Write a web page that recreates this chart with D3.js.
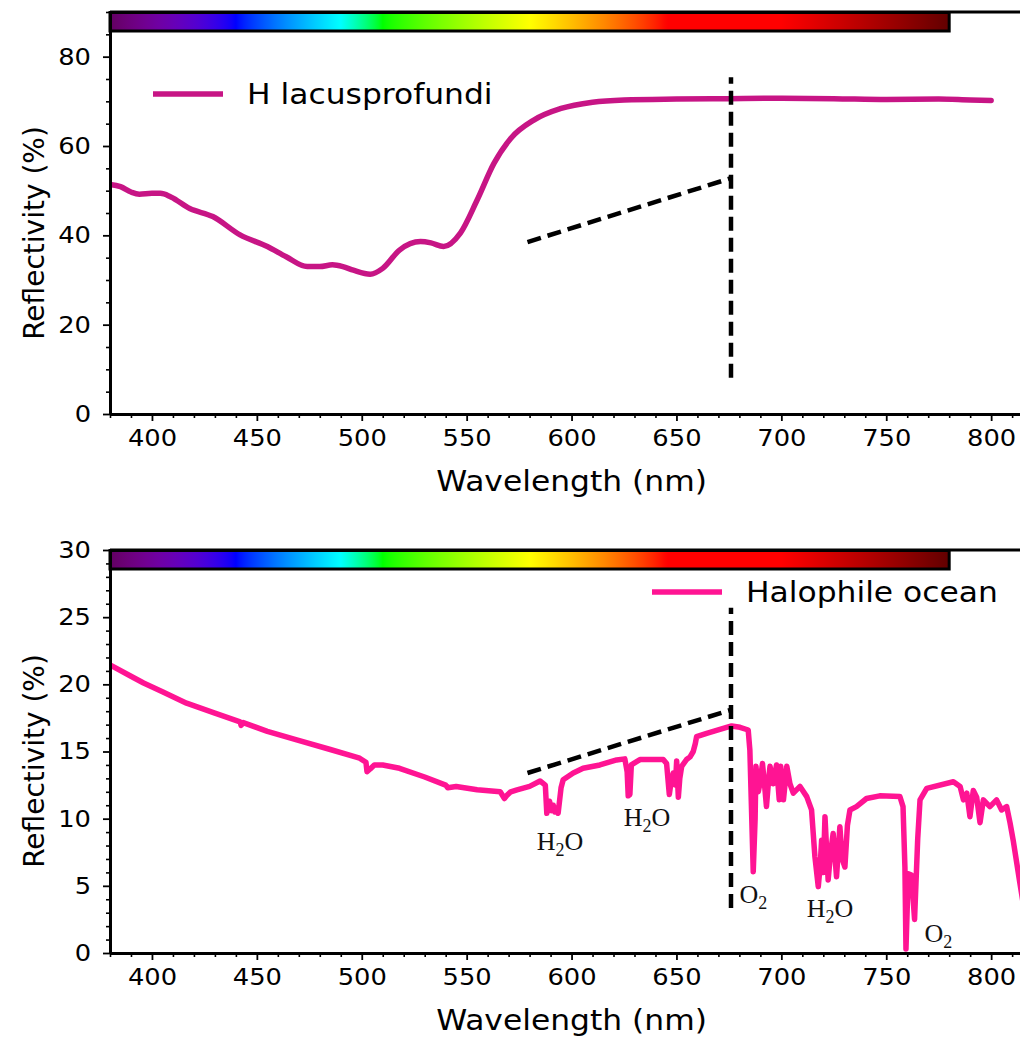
<!DOCTYPE html>
<html><head><meta charset="utf-8">
<script src="https://cdn.jsdelivr.net/npm/d3@7"></script>
<style>body{margin:0;background:#fff}svg{display:block}</style>
</head><body>
<svg id="c" width="1020" height="1038"></svg>
<script>
// ---------------- data ----------------
const xTicks = [400, 450, 500, 550, 600, 650, 700, 750, 800];
const yTicksTop = [0, 20, 40, 60, 80];
const yTicksBot = [0, 5, 10, 15, 20, 25, 30];

const lacusName = "H lacusprofundi";
const lacusWl  = [380, 385, 390, 394, 400, 404, 409, 418, 429, 442, 455, 464, 474, 480, 486, 491, 496, 504, 510, 518, 528, 533, 539, 547, 555, 563, 571, 582, 595, 610, 625, 650, 675, 700, 725, 750, 775, 790, 800];
const lacusVal = [51.4, 50.9, 49.7, 49.2, 49.4, 49.4, 48.6, 46.0, 44.2, 40.1, 37.5, 35.2, 33.0, 33.0, 33.4, 33.0, 32.2, 31.3, 32.6, 36.7, 38.6, 38.3, 37.5, 40.5, 47.9, 56.1, 61.7, 65.8, 68.4, 69.8, 70.3, 70.5, 70.6, 70.7, 70.6, 70.4, 70.5, 70.3, 70.2];

const oceanName = "Halophile ocean";
const oceanWl  = [380, 390, 396, 405, 416.5, 430, 442, 442.5, 443.5, 455, 469, 485, 499, 502, 502.5, 504, 506, 510, 518, 530, 540, 541, 545, 555, 566, 568, 569, 571, 574, 580, 585, 587.5, 588.2, 589.5, 590.5, 591.3, 592, 593, 593.6, 595, 596, 600.8, 605.5, 613.5, 621.5, 625.4, 626.5, 627, 627.8, 628.5, 632.6, 643.7, 645.3, 646.6, 647.5, 648.5, 649.5, 650.1, 650.9, 651.6, 652.5, 654.8, 656.5, 658, 659, 659.6, 664.4, 670.7, 676.3, 680.3, 684.2, 685, 686.6, 687.5, 687.9, 689, 689.8, 691, 692, 692.9, 694, 694.6, 696.1, 697.7, 699, 699.7, 701, 702.6, 704.1, 705.7, 708.9, 712.1, 714.4, 716, 717.6, 718.5, 719.2, 720, 720.8, 722.3, 723.5, 724.7, 726.3, 727.9, 729, 730.3, 731.5, 732.7, 735.8, 740.6, 746.9, 756.5, 758, 758.9, 759.4, 760.5, 762, 763.5, 765, 766.1, 769.3, 782, 785.2, 786.8, 788.4, 789.9, 791.5, 793.1, 794.7, 796.3, 799.4, 802.6, 805, 807.4, 809, 810.5, 813.7, 816];
const oceanVal = [21.45, 20.6, 20.1, 19.45, 18.6, 17.85, 17.2, 16.95, 17.15, 16.5, 15.86, 15.15, 14.5, 14.2, 13.5, 13.7, 14.0, 14.0, 13.75, 13.1, 12.5, 12.3, 12.4, 12.15, 12.0, 11.5, 11.7, 12.0, 12.15, 12.4, 12.8, 12.5, 10.4, 11.3, 10.6, 11.0, 10.5, 10.8, 10.4, 12.3, 12.9, 13.4, 13.75, 14.0, 14.37, 14.45, 13.5, 11.7, 11.8, 14.0, 14.4, 14.4, 14.1, 11.8, 12.8, 13.4, 12.5, 14.3, 11.6, 13.0, 13.9, 14.4, 14.6, 15.0, 15.6, 16.1, 16.35, 16.65, 16.9, 16.8, 16.6, 15.1, 6.05, 10.0, 13.9, 12.0, 12.6, 14.1, 12.5, 10.9, 13.0, 13.9, 12.6, 14.0, 11.4, 13.9, 11.4, 13.9, 12.6, 11.9, 12.4, 11.64, 10.65, 7.17, 4.94, 6.5, 8.4, 6.0, 10.15, 5.44, 7.5, 8.9, 5.68, 9.4, 7.0, 6.4, 9.5, 10.65, 10.9, 11.5, 11.7, 11.65, 10.9, 6.4, 0.3, 5.9, 5.8, 2.5, 8.5, 11.4, 12.26, 12.75, 12.4, 11.4, 11.9, 10.15, 12.1, 11.6, 9.7, 11.4, 10.9, 11.4, 10.65, 10.9, 9.7, 8.4, 5.2, 3.0];

// dashed guide lines (wavelength, value)
const slopeTopWl = [579, 676], slopeTopVal = [38.5, 52.8];
const vertTopWl = 676, vertTopVal = [8.1, 75.4];
const slopeBotWl = [579, 676], slopeBotVal = [13.4, 18.1];
const vertBotWl = 676, vertBotVal = [3.35, 25.7];

// absorption band labels (main, subscript, tail, wavelength centre, value at baseline)
const bandMain = ["H", "H", "O", "H", "O"];
const bandSub  = ["2", "2", "2", "2", "2"];
const bandTail = ["O", "O", "", "O", ""];
const bandWl   = [594.5, 636, 686.7, 723.2, 774.9];
const bandVal  = [7.67, 9.46, 3.72, 2.68, 0.82];

// visible spectrum colour bar
const specRange = [380, 780];

// ---------------- drawing ----------------
const svg = d3.select("#c");
const FONT = "'DejaVu Sans', 'Bitstream Vera Sans', sans-serif";
const SX = 1.12; // horizontal text stretch of the original raster

const x = d3.scaleLinear().domain([380, 820]).range([110, 1033.1]);

function specColor(w) {
  let r = 0, g = 0, b = 0; const gm = 0.8;
  if (w < 440) { const att = 0.3 + 0.7 * (w - 380) / 60; r = Math.pow((440 - w) / 60 * att, gm); b = Math.pow(att, gm); }
  else if (w < 490) { g = Math.pow((w - 440) / 50, gm); b = 1; }
  else if (w < 510) { g = 1; b = Math.pow((510 - w) / 20, gm); }
  else if (w < 580) { r = Math.pow((w - 510) / 70, gm); g = 1; }
  else if (w < 645) { r = 1; g = Math.pow((645 - w) / 65, gm); }
  else if (w < 700) { r = 1; }
  else { r = Math.pow(1 - 0.7 * (w - 700) / 80, gm); }
  return d3.rgb(r * 255, g * 255, b * 255).formatHex();
}
const defs = svg.append("defs");
const grad = defs.append("linearGradient").attr("id", "spec").attr("x1", "0%").attr("x2", "100%").attr("y1", "0%").attr("y2", "0%");
d3.range(specRange[0], specRange[1] + 0.1, 2).forEach(w => {
  grad.append("stop").attr("offset", ((w - specRange[0]) / (specRange[1] - specRange[0]) * 100) + "%").attr("stop-color", specColor(w));
});

function panel(opts) {
  const g = svg.append("g");
  const y = d3.scaleLinear().domain(opts.yDomain).range([opts.y0, opts.y1]);
  const clipId = "clip" + opts.id;
  defs.append("clipPath").attr("id", clipId).append("rect")
    .attr("x", x(380)).attr("y", opts.y1).attr("width", x(820) - x(380)).attr("height", opts.y0 - opts.y1);

  // minor ticks
  const xMinor = d3.range(380, 821, 10).filter(v => !xTicks.includes(v));
  g.append("g").attr("transform", `translate(0,${opts.y0})`)
    .call(d3.axisBottom(x).tickValues(xMinor).tickSize(4).tickFormat("").tickSizeOuter(0))
    .call(a => a.select(".domain").remove())
    .call(a => a.selectAll("line").attr("stroke-width", 1.6));
  const yMinor = d3.range(opts.yDomain[0], opts.yDomain[1] + 0.01, opts.yMinorStep).filter(v => !opts.yTicks.includes(v));
  g.append("g").attr("transform", `translate(${x(380)},0)`)
    .call(d3.axisLeft(y).tickValues(yMinor).tickSize(4).tickFormat("").tickSizeOuter(0))
    .call(a => a.select(".domain").remove())
    .call(a => a.selectAll("line").attr("stroke-width", 1.6));

  // data line
  g.append("path")
    .attr("clip-path", `url(#${clipId})`)
    .attr("d", d3.line().x((d, i) => x(opts.wl[i])).y(d => y(d)).curve(opts.curve)(opts.val))
    .attr("fill", "none").attr("stroke", opts.color).attr("stroke-width", 5.5)
    .attr("stroke-linejoin", "round").attr("stroke-linecap", "round");

  // dashed guides
  g.append("line")
    .attr("x1", x(opts.slopeWl[0])).attr("y1", y(opts.slopeVal[0]))
    .attr("x2", x(opts.slopeWl[1])).attr("y2", y(opts.slopeVal[1]))
    .attr("stroke", "#000").attr("stroke-width", 4.5).attr("stroke-dasharray", "14,7");
  g.append("line")
    .attr("x1", x(opts.vertWl)).attr("y1", y(opts.vertVal[0]))
    .attr("x2", x(opts.vertWl)).attr("y2", y(opts.vertVal[1]))
    .attr("stroke", "#000").attr("stroke-width", 4.5).attr("stroke-dasharray", "14,7");

  // colour bar
  g.append("rect")
    .attr("x", x(specRange[0])).attr("y", opts.y1 + 0.5)
    .attr("width", x(specRange[1]) - x(specRange[0])).attr("height", 18.5)
    .attr("fill", "url(#spec)").attr("stroke", "#000").attr("stroke-width", 3);

  // major axes
  const xa = g.append("g").attr("transform", `translate(0,${opts.y0})`)
    .call(d3.axisBottom(x).tickValues(xTicks).tickSize(7).tickPadding(9).tickSizeOuter(0));
  xa.select(".domain").attr("stroke-width", 3);
  xa.selectAll("line").attr("stroke-width", 1.8);
  xa.selectAll("text").attr("font-family", FONT).attr("font-size", 23).attr("fill", "#000")
    .attr("transform", `scale(${SX},1)`);
  const ya = g.append("g").attr("transform", `translate(${x(380)},0)`)
    .call(d3.axisLeft(y).tickValues(opts.yTicks).tickSize(7).tickPadding(11).tickSizeOuter(0));
  ya.select(".domain").attr("stroke-width", 3);
  ya.selectAll("line").attr("stroke-width", 1.8);
  ya.selectAll("text").attr("font-family", FONT).attr("font-size", 23).attr("fill", "#000")
    .attr("x", -19 / SX).attr("transform", `scale(${SX},1)`);
  // top spine
  g.append("line").attr("x1", x(380)).attr("x2", x(820)).attr("y1", opts.y1).attr("y2", opts.y1)
    .attr("stroke", "#000").attr("stroke-width", 3);

  // axis labels
  g.append("text").attr("transform", `translate(${(x(380) + x(820)) / 2},${opts.y0 + 77}) scale(${SX},1)`)
    .attr("text-anchor", "middle").attr("font-family", FONT).attr("font-size", 28).text("Wavelength (nm)");
  g.append("text").attr("transform", `translate(44,${opts.ylabCenter}) rotate(-90)`)
    .attr("text-anchor", "middle").attr("font-family", FONT).attr("font-size", 28).text("Reflectivity (%)");

  // legend
  g.append("line").attr("x1", opts.legX).attr("x2", opts.legX + 70).attr("y1", opts.legY).attr("y2", opts.legY)
    .attr("stroke", opts.color).attr("stroke-width", 5.5);
  g.append("text").attr("transform", `translate(${opts.legX + 94},${opts.legY + 10}) scale(${SX},1)`)
    .attr("font-family", FONT).attr("font-size", 28).text(opts.name);

  return y;
}

panel({ id: "t", yDomain: [0, 90], y0: 414, y1: 12, yTicks: yTicksTop, yMinorStep: 5,
  wl: lacusWl, val: lacusVal, color: "#C71585", curve: d3.curveMonotoneX,
  slopeWl: slopeTopWl, slopeVal: slopeTopVal, vertWl: vertTopWl, vertVal: vertTopVal,
  ylabCenter: 233, legX: 153, legY: 94, name: lacusName });

const yb = panel({ id: "b", yDomain: [0, 30], y0: 953, y1: 550, yTicks: yTicksBot, yMinorStep: 1,
  wl: oceanWl, val: oceanVal, color: "#FF1493", curve: d3.curveLinear,
  slopeWl: slopeBotWl, slopeVal: slopeBotVal, vertWl: vertBotWl, vertVal: vertBotVal,
  ylabCenter: 761, legX: 652, legY: 592, name: oceanName });

// band labels
bandMain.forEach((m, i) => {
  const t = svg.append("text")
    .attr("x", x(bandWl[i])).attr("y", yb(bandVal[i]))
    .attr("text-anchor", "middle")
    .attr("font-family", "'Liberation Serif', 'Times New Roman', serif")
    .attr("font-size", 26).attr("fill", "#111");
  t.append("tspan").text(m);
  t.append("tspan").attr("font-size", 18).attr("dy", 6).text(bandSub[i]);
  if (bandTail[i]) t.append("tspan").attr("dy", -6).text(bandTail[i]);
});
</script>
</body></html>
